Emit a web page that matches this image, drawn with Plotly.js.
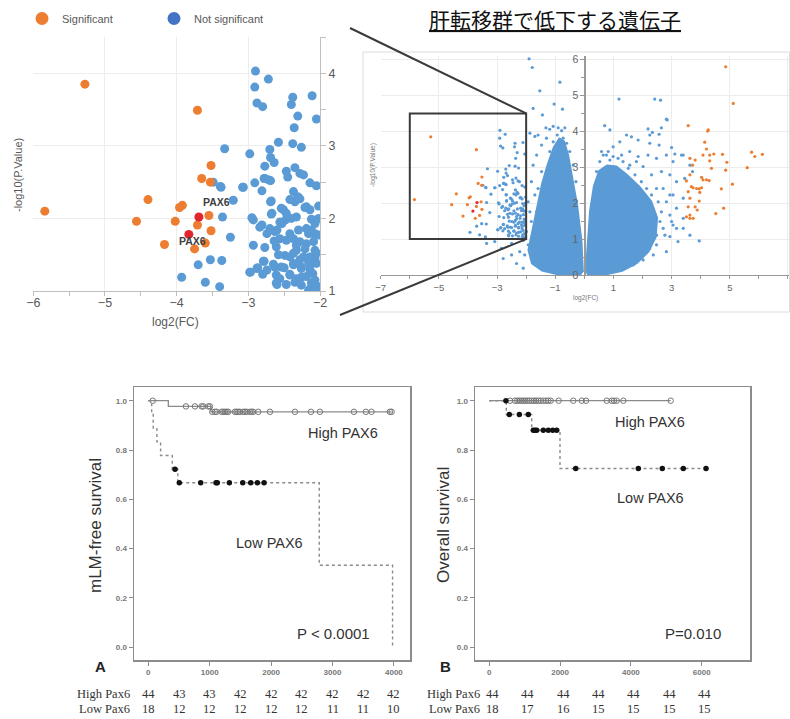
<!DOCTYPE html>
<html><head><meta charset="utf-8">
<script src="https://cdn.plot.ly/plotly-3.0.1.min.js"></script>
<style>html,body{margin:0;padding:0;background:#fff}#chart{width:790px;height:719px}</style>
</head><body><div id="chart"></div>
<script>
// ---------------- DATA ----------------
// Volcano: significant (down-regulated) genes inside the zoom window
const sigX = [-5.28,-3.71,-5.84,-3.52,-3.65,-3.53,-4.40,-3.92,-3.96,-4.56,-4.02,-3.55,-3.71,-3.52,-4.17,-3.60,-3.75];
const sigY = [3.85,3.49,2.10,2.73,2.55,2.50,2.26,2.18,2.15,1.96,1.96,2.04,1.91,1.83,1.64,1.66,1.58];
// PAX6 probes (red)
const pax6X = [-3.69,-3.83];
const pax6Y = [2.02,1.78];
const pax6Labels = ['PAX6','PAX6'];
// Not significant genes inside the zoom window [x, y]
const nsLeftPts = [
[-2.90,4.03],[-2.72,3.92],[-2.91,3.81],[-2.88,3.59],[-2.80,3.54],[-2.38,3.67],[-2.40,3.57],[-2.11,3.69],[-2.31,3.41],[-2.05,3.37],[-2.36,3.25],[-3.33,2.96],[-2.98,2.89],[-2.58,3.05],[-2.38,3.03],[-2.26,2.98],[-2.70,2.95],[-2.69,2.84],[-2.64,2.77],[-2.77,2.72],[-2.47,2.65],[-2.35,2.70],[-2.45,2.57],[-2.28,2.62],[-2.23,2.60],
[-3.49,2.50],[-3.39,2.44],[-3.07,2.43],[-3.21,2.25],[-2.91,2.49],[-2.81,2.38],[-2.77,2.55],[-2.69,2.52],[-2.14,2.49],[-2.05,2.45],[-2.69,2.23],[-2.42,2.26],[-2.31,2.30],[-2.28,2.27],[-2.02,2.17],[-2.14,2.12],[-2.19,2.16],[-2.02,2.00],[-2.07,1.93],[-2.67,2.07],[-2.51,2.12],[-2.47,2.07],[-2.40,2.00],[-2.93,1.98],[-2.84,1.88],[-2.74,1.79],[-2.60,1.84],[-2.53,1.93],[-2.42,1.79],[-2.30,1.84],[-2.16,1.79],[-2.02,1.77],[-3.25,1.74],[-2.93,1.63],[-2.77,1.60],[-2.64,1.69],[-2.47,1.70],[-2.33,1.63],[-2.21,1.58],[-2.07,1.56],[-3.53,1.43],[-3.37,1.42],[-3.70,1.36],[-3.93,1.19],[-3.60,1.12],[-3.40,1.06],[-2.79,1.41],[-2.98,1.26],[-2.88,1.31],[-2.63,1.33],[-2.50,1.32],[-2.37,1.38],[-2.26,1.33],[-2.14,1.35],[-2.05,1.38],[-2.80,1.23],[-2.56,1.17],[-2.42,1.22],[-2.26,1.19],[-2.10,1.24],[-2.60,1.09],[-2.47,1.09],[-2.35,1.12],[-2.26,1.08],[-2.12,1.06],[-2.02,1.06],[-2.16,1.01],[-2.07,1.15],[-2.05,1.52],[-2.14,1.47],[-2.23,1.47],[-2.37,1.52],[-2.49,1.49],[-2.09,1.68],[-2.12,1.84],[-2.07,1.79],[-2.19,1.65],
[-3.36,2.02],[-2.95,2.01],[-2.81,1.91],[-2.68,2.24],[-2.54,2.14],[-2.35,2.23],[-2.30,2.28],[-2.21,2.15],[-2.68,2.06],[-2.56,1.95],[-2.48,1.98],[-2.33,2.02],[-2.12,1.99],[-2.70,1.86],[-2.63,1.82],[-2.19,1.86],[-2.10,1.79],[-2.56,1.72],[-2.37,1.72],[-2.28,1.68],[-2.61,1.61],[-2.33,1.56],[-2.58,1.50],[-2.42,1.47],[-2.28,1.43],[-2.16,1.40],[-2.07,1.45],[-2.65,1.37],[-2.54,1.33],[-2.37,1.36],[-2.26,1.31],[-2.14,1.29],[-2.61,1.22],[-2.42,1.23],[-2.33,1.17],[-2.19,1.20],[-2.61,1.11],[-2.12,1.11],[-2.05,1.04],[-2.37,2.37],[-2.78,2.55],[-2.71,2.53],[-3.08,2.43],[-3.38,2.43],[-2.87,1.32],[-2.78,1.41],[-2.97,1.26],[-2.74,1.29]
];
// Significant (up-regulated) genes on the right of the full volcano
const sigRightPts = [
[4.86,5.80],[5.12,4.78],[3.57,4.16],[4.26,4.04],[4.24,4.01],[4.14,3.70],[4.20,3.51],[4.08,3.34],[4.31,3.34],[4.45,3.37],[4.75,3.36],[5.75,3.42],[5.86,3.30],[6.12,3.36],[3.63,3.25],[3.81,3.20],[4.31,3.18],[4.90,3.14],[3.72,3.06],[4.37,2.97],[4.86,2.92],[5.60,2.99],[3.63,2.79],[4.03,2.72],[4.08,2.65],[4.20,2.65],[4.29,2.63],[3.51,2.62],[3.68,2.46],[3.74,2.43],[3.86,2.41],[3.95,2.40],[4.03,2.43],[3.57,2.32],[3.97,2.30],[5.09,2.53],[4.71,2.40],[3.63,2.14],[3.95,2.06],[3.57,1.90],[3.81,1.90],[3.88,1.81],[4.79,1.86],[4.52,1.71],[3.51,1.62],[3.63,1.58],[3.74,1.58],[3.63,1.67]
];
// Scattered not-significant genes outside the zoom window
const nsRightPts = [
[-1.90,6.02],[-1.79,5.78],[-1.53,5.13],[-0.84,5.37],[-1.76,4.64],[-1.04,4.76],[-0.75,4.62],[-1.44,4.46],[-1.32,4.10],[-1.19,4.06],[-1.07,4.14],[-0.90,4.10],[-0.78,4.02],[-0.67,4.10],[-1.59,3.90],[-1.70,3.86],[-1.87,3.95],
[-3.36,0.88],[-2.85,0.74],[-2.50,0.88],[-2.22,0.65],[-2.05,0.56],[-1.82,0.46],[-1.93,0.84],[-2.10,0.97],[-2.50,0.56],[-2.79,0.46],[-2.33,0.32],[-2.10,0.19],[-3.08,0.93],
[-1.76,3.06],[-1.64,3.34],[-1.47,3.62],[-1.30,3.81],[-1.82,2.60],[-1.70,2.23],[-1.93,2.04],[-1.64,1.76],[-1.82,1.49],[-1.99,1.21],[-1.76,0.93],[-1.59,0.65],[-1.42,0.37],[-1.19,0.19],[-0.96,0.09],[-1.47,2.88],[-1.59,2.41],[-1.87,1.76],[-1.19,3.44],[-1.07,3.71],[-0.93,3.90],[-0.73,3.81],[-0.61,3.67],[-0.50,3.44],[-0.38,3.06],[-0.29,2.60],
[0.70,4.16],[0.88,4.04],[1.19,4.90],[2.42,4.90],[2.62,4.87],[2.82,4.34],[2.19,4.07],[2.34,3.97],[2.25,3.90],[2.57,3.92],[2.65,4.10],[1.22,3.71],[1.45,3.90],[1.62,3.85],[1.85,3.76],[0.99,3.57],[0.59,3.44],[0.76,3.34],[0.88,3.20],[1.16,3.25],[1.33,3.16],[1.56,3.06],[1.79,3.16],[2.19,3.34],[2.48,3.25],[2.82,3.34],[3.05,3.16],[3.40,3.34],[3.63,3.06],[2.65,2.88],[2.94,2.79],[3.17,2.60],[3.45,2.69],[3.72,2.88],[2.71,2.41],[3.05,2.23],[3.40,2.14],[2.82,2.04],[3.17,1.86],[2.94,1.67],[3.40,1.58],[3.05,1.39],[2.71,1.30],[2.48,1.11],[2.94,1.07],[3.40,1.30],[3.22,0.93],[3.63,1.11],[2.82,0.65],[2.37,0.56],[2.02,0.42],[1.68,0.28],[2.48,0.84],[2.85,4.32],[2.25,3.67],[2.57,3.62],[3.00,3.55],[3.11,3.37],[3.34,3.34],[3.95,0.95],
[0.42,2.88],[0.53,3.16],[0.65,3.34],[0.82,3.44],[0.99,3.30],[1.28,3.34],[1.51,2.97],[1.74,2.79],[1.96,2.60],[2.14,2.41],[2.31,2.23],[2.54,2.04],[2.65,1.76],[2.60,1.49],[2.42,1.30],[2.77,1.11],[2.25,0.74],[2.02,0.56],[1.74,0.42],[1.45,0.28],[1.11,0.14],[0.76,0.05],[3.00,1.49],[3.17,1.30],[2.94,2.23],[2.02,3.02],[2.31,2.79],[1.85,3.30],[1.56,3.44],[2.48,2.41]
];
// Outlines of the two dense clouds of not-significant genes
const lobeLX = [-0.05,-0.10,-0.25,-0.42,-0.56,-0.70,-0.86,-1.05,-1.25,-1.45,-1.62,-1.80,-1.92,-1.80,-1.45,-0.95,-0.45,-0.11];
const lobeLY = [0.08,0.95,1.95,2.78,3.35,3.72,3.80,3.55,3.10,2.55,1.90,1.25,0.70,0.32,0.12,0.03,0.0,0.0];
const lobeRX = [0.05,0.12,0.20,0.33,0.51,0.78,1.10,1.45,1.90,2.30,2.50,2.45,2.20,1.80,1.30,0.65,0.10];
const lobeRY = [0.08,0.95,1.80,2.48,2.90,3.05,3.02,2.80,2.45,2.05,1.60,1.05,0.65,0.33,0.12,0.0,0.0];
// Zoom window
const zoomX = [-6,-2];
const zoomY = [1,4.5];

// Kaplan-Meier A: mLM-free survival
const aHighStepT = [0,326,1021,3964];
const aHighStepS = [1.0,0.977,0.955,0.955];
const aHighCensT = [72,613,760,868,895,977,1004,1042,1085,1112,1194,1221,1248,1275,1302,1411,1438,1465,1492,1547,1574,1601,1655,1682,1709,1791,1981,2388,2649,2795,3349,3544,3636,3935,3962];
const aLowStepT = [0,55,80,140,200,390,480,2784,3978];
const aLowStepS = [1.0,0.944,0.889,0.833,0.778,0.722,0.667,0.333,0.0];
const aLowCensT = [435,505,853,1103,1124,1320,1538,1668,1776,1885];
const riskTimesA = [0,500,1000,1500,2000,2500,3000,3500,4000];
const riskHighA = [44,43,43,42,42,42,42,42,42];
const riskLowA = [18,12,12,12,12,12,11,11,10];
// Kaplan-Meier B: overall survival
const bHighStepT = [0,5124];
const bHighStepS = [1.0,1.0];
const bHighCensT = [585,726,791,848,904,961,1017,1074,1130,1198,1263,1319,1384,1452,1525,1602,1667,1735,1960,2373,2610,2732,3316,3458,3523,3599,3786,5124];
const bLowStepT = [0,480,1198,1997,6122];
const bLowStepS = [1.0,0.944,0.880,0.725,0.725];
const bLowCensT = [470,565,848,1102,1243,1291,1339,1525,1667,1791,1904,2441,4210,4887,5480,6122];
const riskTimesB = [0,1000,2000,3000,4000,5000,6000];
const riskHighB = [44,44,44,44,44,44,44];
const riskLowB = [18,17,16,15,15,15,15];

// ---------------- LAYOUT HELPERS ----------------
const W = 790, H = 719;
const PX = p => p / W;
const PY = p => 1 - p / H;
const domX = (a, b) => [a / W, b / W];
const domY = (top, bot) => [1 - bot / H, 1 - top / H];
const FONT = 'Liberation Sans, Arial, sans-serif';
const SERIF = 'Liberation Serif, Times New Roman, serif';
const BLUE = '#5B9BD5', ORANGE = '#ED7D31', RED = '#E3242B';

const surv = (t, ts, ss) => { let s = ss[0]; for (let i = 0; i < ts.length; i++) if (ts[i] <= t) s = ss[i]; return s; };
const col = (pts, i) => pts.map(p => p[i]);

// axis geometry
const g1 = {xd: domX(33.3, 320), yd: domY(37, 291), xr: zoomX, yr: zoomY};
const g2 = {xd: domX(380.7, 790), yd: domY(56, 275), xr: [-7, 7.07], yr: [0, 6.1]};
const g3 = {xd: domX(134, 410), yd: domY(387, 660), xr: [-233, 4262], yr: [-0.0515, 1.0556]};
const g4 = {xd: domX(475, 750), yd: domY(387, 660), xr: [-404, 7364], yr: [-0.0515, 1.0556]};
const toPaperX = (g, v) => g.xd[0] + (v - g.xr[0]) / (g.xr[1] - g.xr[0]) * (g.xd[1] - g.xd[0]);
const toPaperY = (g, v) => g.yd[0] + (v - g.yr[0]) / (g.yr[1] - g.yr[0]) * (g.yd[1] - g.yd[0]);

// ---------------- TRACES ----------------
const traces = [];
// legend entries
traces.push({x:[null], y:[null], mode:'markers', name:'Significant', marker:{color:ORANGE, size:13}, xaxis:'x', yaxis:'y', showlegend:true});
traces.push({x:[null], y:[null], mode:'markers', name:'Not significant', marker:{color:'#4472C4', size:13}, xaxis:'x', yaxis:'y', showlegend:true});
// zoomed volcano
traces.push({x:col(nsLeftPts,0), y:col(nsLeftPts,1), mode:'markers', marker:{color:BLUE, size:9}, xaxis:'x', yaxis:'y', showlegend:false});
traces.push({x:sigX, y:sigY, mode:'markers', marker:{color:ORANGE, size:9}, xaxis:'x', yaxis:'y', showlegend:false});
traces.push({x:pax6X, y:pax6Y, mode:'markers', marker:{color:RED, size:9}, xaxis:'x', yaxis:'y', showlegend:false});
// full volcano
const poly = (xs, ys, c) => traces.push({x:xs, y:ys, mode:'lines', fill:'toself', fillcolor:c, line:{color:c, width:2}, xaxis:'x2', yaxis:'y2', showlegend:false});
poly(lobeLX, lobeLY, BLUE);
poly(lobeRX, lobeRY, BLUE);
traces.push({x:col(nsRightPts,0).concat(col(nsLeftPts,0)), y:col(nsRightPts,1).concat(col(nsLeftPts,1)), mode:'markers', marker:{color:BLUE, size:3.2}, xaxis:'x2', yaxis:'y2', showlegend:false, cliponaxis:false});
traces.push({x:sigX.concat(col(sigRightPts,0)), y:sigY.concat(col(sigRightPts,1)), mode:'markers', marker:{color:ORANGE, size:3.2}, xaxis:'x2', yaxis:'y2', showlegend:false});
traces.push({x:pax6X, y:pax6Y, mode:'markers', marker:{color:RED, size:3.2}, xaxis:'x2', yaxis:'y2', showlegend:false});

// KM curves
function km(ax, ay, stepT, stepS, censT, high) {
  traces.push({x:stepT, y:stepS, mode:'lines', line:{shape:'hv', color:'#8a8a8a', width: high ? 1.3 : 1.4, dash: high ? 'solid' : 'dot'}, xaxis:ax, yaxis:ay, showlegend:false});
  traces.push({x:censT, y:censT.map(t => surv(t, stepT, stepS)), mode:'markers',
    marker: high ? {symbol:'circle-open', size:5.5, color:'#777', line:{width:1, color:'#777'}} : {symbol:'circle', size:5.5, color:'#111'},
    xaxis:ax, yaxis:ay, showlegend:false});
}
km('x3','y3', aHighStepT, aHighStepS, aHighCensT, true);
km('x3','y3', aLowStepT, aLowStepS, aLowCensT, false);
km('x4','y4', bHighStepT, bHighStepS, bHighCensT, true);
km('x4','y4', bLowStepT, bLowStepS, bLowCensT, false);

// ---------------- AXES ----------------
const grey = '#595959';
const kmX = (g, tv) => ({domain:g.xd, range:g.xr, tickvals:tv, showline:true, mirror:true, linecolor:'#8c8c8c', linewidth:1.5,
  ticks:'outside', ticklen:4, tickcolor:'#8c8c8c', showgrid:false, zeroline:false,
  tickfont:{family:FONT, size:8, color:'#777', weight:'bold'}});
const kmY = (g, anchor) => ({domain:g.yd, range:g.yr, anchor:anchor, tickvals:[0,0.2,0.4,0.6,0.8,1.0], tickformat:'.1f', showline:true, mirror:true,
  linecolor:'#8c8c8c', linewidth:1.5, ticks:'outside', ticklen:4, tickcolor:'#8c8c8c', showgrid:false, zeroline:false,
  tickfont:{family:FONT, size:8, color:'#777', weight:'bold'}});

const y2pos = toPaperX(g2, 0);

const layout = {
  width:W, height:H, margin:{l:0, r:0, t:0, b:0}, paper_bgcolor:'#fff', plot_bgcolor:'rgba(0,0,0,0)',
  font:{family:FONT, color:grey},
  showlegend:true,
  legend:{orientation:'h', x:PX(22), y:PY(4), xanchor:'left', yanchor:'top', font:{family:FONT, size:11, color:grey},
    entrywidth:87, entrywidthmode:'pixels', itemsizing:'trace', bgcolor:'rgba(0,0,0,0)'},
  xaxis:{domain:g1.xd, range:g1.xr, anchor:'y', tickvals:[-6,-5,-4,-3,-2], showline:true, linecolor:'#bfbfbf', linewidth:1,
    showgrid:true, gridcolor:'#ededed', zeroline:false, ticks:'', minor:{dtick:0.5, tick0:0, ticks:'outside', ticklen:4, tickcolor:'#bfbfbf', showgrid:false},
    tickfont:{family:FONT, size:12.5, color:grey}},
  yaxis:{domain:g1.yd, range:g1.yr, anchor:'x', side:'right', tickvals:[1,2,3,4], showline:true, linecolor:'#bfbfbf', linewidth:1,
    showgrid:true, gridcolor:'#ededed', zeroline:false, ticks:'outside', ticklen:5, tickcolor:'#bfbfbf',
    minor:{dtick:0.5, tick0:0, ticks:'outside', ticklen:5, tickcolor:'#bfbfbf', showgrid:false},
    tickfont:{family:FONT, size:12.5, color:grey}},
  xaxis2:{domain:g2.xd, range:g2.xr, anchor:'y2', tick0:-7, dtick:2, showline:true, linecolor:'#999', linewidth:1.2,
    showgrid:true, gridcolor:'#ececec', zeroline:false, ticks:'outside', ticklen:3, tickcolor:'#999',
    minor:{dtick:1, tick0:0, ticks:'outside', ticklen:3, tickcolor:'#999', showgrid:false},
    tickfont:{family:FONT, size:9.5, color:'#666'}},
  yaxis2:{domain:g2.yd, range:g2.yr, anchor:'free', position:y2pos, side:'left', dtick:1, showline:true, linecolor:'#999', linewidth:1.2,
    showgrid:true, gridcolor:'#ececec', zeroline:false, ticks:'outside', ticklen:4, tickcolor:'#999',
    minor:{dtick:0.5, ticks:'outside', ticklen:3, tickcolor:'#999', showgrid:false},
    tickfont:{family:FONT, size:10.5, color:'#666'}},
  xaxis3: Object.assign(kmX(g3, [0,1000,2000,3000,4000]), {anchor:'y3'}),
  yaxis3: kmY(g3, 'x3'),
  xaxis4: Object.assign(kmX(g4, [0,2000,4000,6000]), {anchor:'y4'}),
  yaxis4: kmY(g4, 'x4'),
  shapes:[
    {type:'rect', xref:'paper', yref:'paper', x0:PX(363), x1:PX(789.5), y0:PY(312), y1:PY(52), line:{color:'#dcdcdc', width:1}},
    {type:'rect', xref:'x2', yref:'y2', x0:zoomX[0], x1:zoomX[1], y0:zoomY[0], y1:zoomY[1], line:{color:'#3a3a3a', width:2}},
    {type:'line', xref:'paper', yref:'paper', x0:toPaperX(g2, zoomX[1]), y0:toPaperY(g2, zoomY[1]), x1:PX(350), y1:PY(28), line:{color:'#3a3a3a', width:2}},
    {type:'line', xref:'paper', yref:'paper', x0:toPaperX(g2, zoomX[1]), y0:toPaperY(g2, zoomY[0]), x1:PX(340), y1:PY(315), line:{color:'#3a3a3a', width:2}}
  ],
  annotations:[]
};

const ann = (text, px, py, o) => layout.annotations.push(Object.assign({text:text, xref:'paper', yref:'paper', x:PX(px), y:PY(py), showarrow:false,
  xanchor:'center', yanchor:'middle', font:{family:FONT, size:14.5, color:'#333'}}, o || {}));

ann('<u>肝転移群で低下する遺伝子</u>', 555, 19, {font:{family:'Noto Sans CJK JP', size:21, color:'#111'}});
ann('-log10(P.Value)', 18, 175, {textangle:-90, font:{family:FONT, size:11, color:grey}});
ann('log2(FC)', 175, 322, {font:{family:FONT, size:12, color:grey}});
ann('-log10(P.Value)', 373, 165, {textangle:-90, font:{family:FONT, size:6.5, color:'#777'}});
ann('log2(FC)', 585, 298, {font:{family:FONT, size:6.5, color:'#777'}});
// PAX6 labels anchored to the data points
layout.annotations.push({text:'<b>'+pax6Labels[0]+'</b>', xref:'x', yref:'y', x:pax6X[0], y:pax6Y[0], xshift:18, yshift:15, showarrow:false, font:{family:FONT, size:10.5, color:'#404040'}});
layout.annotations.push({text:'<b>'+pax6Labels[1]+'</b>', xref:'x', yref:'y', x:pax6X[1], y:pax6Y[1], xshift:4, yshift:-7, showarrow:false, font:{family:FONT, size:10.5, color:'#404040'}});
// numbers at risk, placed through each KM x axis
const RISKFONT = {family:SERIF, size:12.5, color:'#333'};
function risk(ax, times, vals, py, shift) {
  times.forEach((t, i) => layout.annotations.push({text:String(vals[i]), xref:ax, yref:'paper', x:t, y:PY(py), xshift:shift, showarrow:false,
    xanchor:'center', yanchor:'middle', font:RISKFONT}));
}
risk('x3', riskTimesA, riskHighA, 694, 0);
risk('x3', riskTimesA, riskLowA, 709, 0);
risk('x4', riskTimesB, riskHighB, 694, 3);
risk('x4', riskTimesB, riskLowB, 709, 3);
// KM A
ann('mLM-free survival', 95, 526, {textangle:-90, font:{family:FONT, size:17, color:'#333'}});
ann('High PAX6', 343, 433);
ann('Low PAX6', 269, 543);
ann('P &lt; 0.0001', 333, 633, {font:{family:FONT, size:15, color:'#333'}});
ann('<b>A</b>', 100, 666, {font:{family:FONT, size:15, color:'#222'}});
ann('High Pax6', 132, 694, {xanchor:'right', font:RISKFONT});
ann('Low Pax6', 132, 709, {xanchor:'right', font:RISKFONT});
// KM B
ann('Overall survival', 443, 525, {textangle:-90, font:{family:FONT, size:17, color:'#333'}});
ann('High PAX6', 650, 422);
ann('Low PAX6', 650, 498);
ann('P=0.010', 693, 633, {font:{family:FONT, size:15, color:'#333'}});
ann('<b>B</b>', 445, 666, {font:{family:FONT, size:15, color:'#222'}});
ann('High Pax6', 482, 694, {xanchor:'right', font:RISKFONT});
ann('Low Pax6', 482, 709, {xanchor:'right', font:RISKFONT});

Plotly.newPlot('chart', traces, layout, {staticPlot:true, displayModeBar:false});
</script></body></html>
